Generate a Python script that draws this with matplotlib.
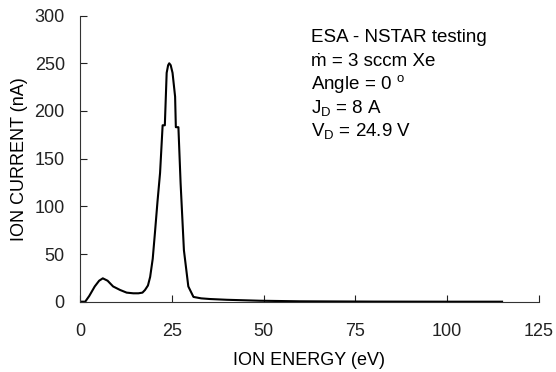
import matplotlib
matplotlib.use("Agg")
from matplotlib import pyplot as plt

plt.rcParams['font.family'] = ['Liberation Sans', 'DejaVu Sans']
plt.rcParams['mathtext.fontset'] = 'custom'
plt.rcParams['mathtext.rm'] = 'Liberation Sans'

#   data
energy = [0, 1.4, 2.5, 4.0, 5.2, 6.2, 7.5, 9.0, 10.9, 12.7, 14.5, 15.9, 17.0, 17.7,
          18.5, 19.1, 19.8, 20.4, 21.1, 21.8, 22.5, 23.1, 23.6, 24.0, 24.3, 24.7,
          25.2, 25.9, 26.1, 26.8, 27.4, 28.3, 29.5, 30.9, 33.0, 35.4, 40.0, 49.0,
          60.0, 80.0, 100.0, 115.0]
current = [0, 0, 6, 16, 22, 24.5, 22, 16, 12.3, 9.5, 8.8, 8.8, 9.5, 12.3,
           17, 26, 45, 72, 105, 135, 185, 185, 240, 248, 250, 248,
           240, 215, 183, 183, 124, 54, 16, 5, 3.5, 2.8, 2.0, 1.0,
           0.4, 0.1, 0, 0]

xticks = [0, 25, 50, 75, 100, 125]
yticks = [0, 50, 100, 150, 200, 250, 300]

fig = plt.figure(figsize=(5.56, 3.72), dpi=100)
ax = fig.add_axes([0.144, 0.189, 0.825, 0.769])

ax.plot(energy, current, color='black', lw=1.5)

ax.set_xlim(0, 125)
ax.set_ylim(0, 300)
ax.set_xticks(xticks)
ax.set_yticks(yticks)
ax.tick_params(direction='in', length=5, width=0.8, labelsize=13, colors='#222222')
ax.tick_params(axis='y', pad=11)
ax.tick_params(axis='x', pad=15)
for s in ['top', 'right']:
    ax.spines[s].set_visible(False)
for s in ['left', 'bottom']:
    ax.spines[s].set_linewidth(0.8)
    ax.spines[s].set_color('#333333')

ax.set_xlabel('ION ENERGY (eV)', fontsize=13, labelpad=9)
ax.set_ylabel('ION CURRENT (nA)', fontsize=13, labelpad=5)

lines = ['ESA - NSTAR testing',
         'ṁ = 3 sccm Xe',
         'Angle = 0 $^{\\mathregular{o}}$',
         'J$_\\mathregular{D}$ = 8 A',
         'V$_\\mathregular{D}$ = 24.9 V']
for i, t in enumerate(lines):
    fig.text(311 / 556, 1 - (38 + i * 23.5) / 372, t, fontsize=13.5, va='center', ha='left')

fig.savefig('out.png', dpi=100)
